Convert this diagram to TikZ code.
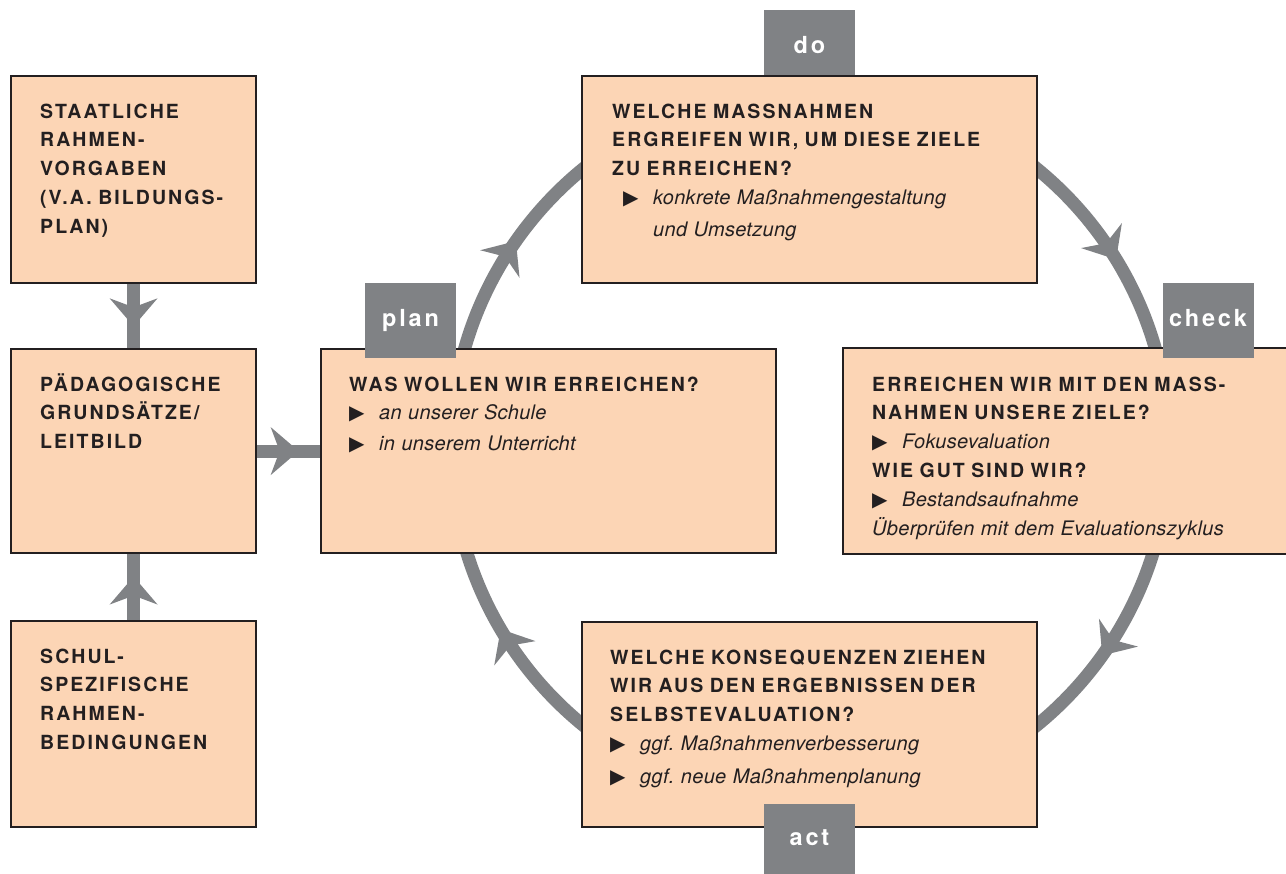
\documentclass[tikz,border=0pt]{standalone}
\usepackage{fontspec}
\setmainfont{TeX Gyre Heros}
\newfontfamily\hb{TeX Gyre Heros}[LetterSpace=10.5]
\newfontfamily\hi{TeX Gyre Heros}[LetterSpace=1.5]
\newfontfamily\hl{TeX Gyre Heros}[LetterSpace=12]
\newfontfamily\dv{DejaVu Sans}
\usetikzlibrary{calc,decorations.markings,backgrounds}
\definecolor{peach}{HTML}{FCD5B5}
\definecolor{ink}{HTML}{231F20}
\definecolor{agray}{HTML}{808285}
\frenchspacing
\newcommand{\tstrut}{\rule{0pt}{20pt}}
\newcommand{\bul}{\makebox[30pt][l]{{\dv\mdseries\fontsize{20}{20}\selectfont\char"25B6}}}
\newcommand{\itx}[1]{{\hi\itshape\mdseries\fontsize{20}{28.8}\selectfont #1}}
\newcommand{\barbpath}{\fill[agray] (0,0) -- (-28,24) -- (-19,0) -- (-28,-24) -- cycle;}
\begin{document}
\begin{tikzpicture}[x=1pt,y=1pt,
  box/.style={draw=ink, line width=2.2pt, fill=peach, inner sep=0pt, anchor=north west},
  txt/.style={anchor=north west, inner sep=0pt, text width=420pt, align=left, text=ink,
    font=\hb\bfseries\fontsize{19.5}{28.8}\selectfont},
  lab/.style={fill=agray, text=white, minimum width=91pt, minimum height=75pt, inner sep=0pt,
    font=\hl\bfseries\fontsize{23.5}{23.5}\selectfont, text height=13pt, text depth=0pt},
  shaft/.style={draw=agray, line width=13pt},
  midhead/.style={postaction={decorate, decoration={markings, mark=at position 0.66 with {\barbpath}}}}
]
\useasboundingbox (0,0) rectangle (1286,874);

% label behind its box
\node[lab] (ldo) at (809.5,826.5) {do};

% boxes
\node[box, minimum width=245pt, minimum height=207pt] (b1) at (10,799) {};
\node[box, minimum width=245pt, minimum height=204pt] (b2) at (10,526) {};
\node[box, minimum width=245pt, minimum height=206pt] (b3) at (10,254) {};
\node[box, minimum width=455pt, minimum height=204pt] (plan) at (320,526) {};
\node[box, minimum width=455pt, minimum height=207pt] (do) at (581,799) {};
\node[box, draw=none, minimum width=443pt, minimum height=204pt] (chk) at (843,526) {};
\draw[ink, line width=2.2pt] (chk.north east) -- (chk.north west) -- (chk.south west) -- (chk.south east);
\node[box, minimum width=455pt, minimum height=205pt] (act) at (581,253) {};

% connectors and cycle on background
\coordinate (cc) at (810,427);
\begin{scope}[on background layer]
  \draw[shaft] (cc) circle[radius=359];
  \begin{scope}[shift={($(cc)+(145:359)$)}, rotate=55]\barbpath\end{scope}
  \begin{scope}[shift={($(cc)+(31.5:359)$)}, rotate=-58.5]\barbpath\end{scope}
  \begin{scope}[shift={($(cc)+(-35.5:359)$)}, rotate=-125.5]\barbpath\end{scope}
  \begin{scope}[shift={($(cc)+(-149.5:359)$)}, rotate=120.5]\barbpath\end{scope}
  \draw[shaft, midhead] (b1.south) -- (b2.north);
  \draw[shaft, midhead] (b3.north) -- (b2.south);
  \draw[shaft, midhead] (b2.east) -- (plan.west);
\end{scope}

% labels on top
\node[lab] (lplan) at (410.5,553.5) {plan};
\node[lab] (lchk) at (1208,553.5) {check};
\node[lab, minimum height=70pt] (lact) at (809.5,35) {act};

% texts
\node[txt] (t1) at ($(b1.north west)+(30,-23)$) {\tstrut STAATLICHE\\RAHMEN-\\VORGABEN\\(V.A. BILDUNGS-\\PLAN)};
\node[txt] (t2) at ($(b2.north west)+(30,-23)$) {\tstrut PÄDAGOGISCHE\\GRUNDSÄTZE/\\LEITBILD};
\node[txt] (t3) at ($(b3.north west)+(30,-23)$) {\tstrut SCHUL-\\SPEZIFISCHE\\RAHMEN-\\BEDINGUNGEN};
\node[txt] (tplan) at ($(plan.north west)+(29,-23)$) {\tstrut WAS WOLLEN WIR ERREICHEN?\\\bul\itx{an unserer Schule}\\[2pt]\bul\itx{in unserem Unterricht}};
\node[txt] (tdo) at ($(do.north west)+(31,-23)$) {\tstrut WELCHE MASSNAHMEN\\ERGREIFEN WIR, UM DIESE ZIELE\\ZU ERREICHEN?\\\hspace*{11pt}\bul\itx{konkrete Maßnahmengestaltung}\\[3pt]\hspace*{41pt}\itx{und Umsetzung}};
\node[txt] (tchk) at ($(chk.north west)+(29,-23)$) {\tstrut ERREICHEN WIR MIT DEN MASS-\\NAHMEN UNSERE ZIELE?\\\bul\itx{Fokusevaluation}\\WIE GUT SIND WIR?\\\bul\itx{Bestandsaufnahme}\\\itx{Überprüfen mit dem Evaluationszyklus}};
\node[txt] (tact) at ($(act.north west)+(29,-23)$) {\tstrut WELCHE KONSEQUENZEN ZIEHEN\\WIR AUS DEN ERGEBNISSEN DER\\SELBSTEVALUATION?\\\bul\itx{ggf. Maßnahmenverbesserung}\\[4pt]\bul\itx{ggf. neue Maßnahmenplanung}};
\end{tikzpicture}
\end{document}
